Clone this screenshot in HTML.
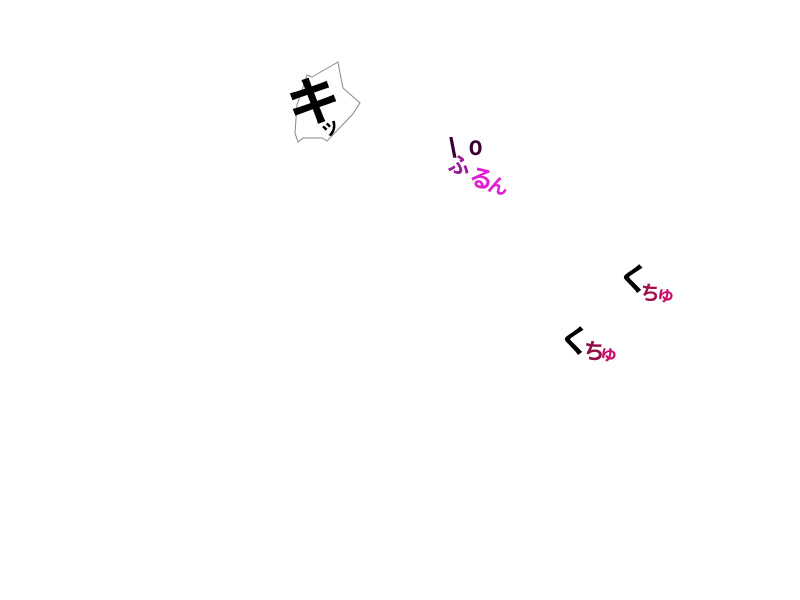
<!DOCTYPE html>
<html><head><meta charset="utf-8"><style>
html,body{margin:0;padding:0;background:#fff;width:800px;height:600px;overflow:hidden;position:relative}
.t{position:absolute;font-family:"Liberation Sans","Noto Sans CJK JP",sans-serif;font-weight:bold;line-height:1;white-space:nowrap}
</style></head><body>
<svg width="800" height="600" style="position:absolute;left:0;top:0">
<path d="M307,75 L312,77 L338,62 L340,73 L343,88 L360,103 L352,115 L327,141 L322,138 L303,138 L298,142 L295,133 L297,105 Z" fill="#fff" stroke="#888" stroke-width="1"/>
</svg>
<div class="t" style="left:287px;top:76px;font-size:54px;color:#000;transform:rotate(-10deg)">キ</div>
<div class="t" style="left:320px;top:118px;font-size:20px;color:#000;transform:rotate(-25deg)">ッ</div>

<div class="t" style="left:449px;top:134px;font-size:28px;color:#3a0035;">\</div>
<div class="t" style="left:467px;top:132px;font-size:28px;color:#3a0035;transform:scaleX(0.8)">o</div>
<div class="t" style="left:448px;top:155px;font-size:22px;color:#9a1a9a;transform:rotate(10deg)">ふ</div>
<div class="t" style="left:469px;top:168px;font-size:24px;color:#e020d0;transform:rotate(15deg)">る</div>
<div class="t" style="left:488px;top:177px;font-size:20px;color:#e020d0;transform:rotate(15deg)">ん</div>

<div class="t" style="left:618px;top:263px;font-size:32px;color:#000;transform:rotate(5deg)">く</div>
<div class="t" style="left:640px;top:284px;font-size:20px;color:#a0104a;transform:rotate(8deg)">ち</div>
<div class="t" style="left:656px;top:286px;font-size:19px;color:#c8106a;transform:rotate(8deg)">ゅ</div>

<div class="t" style="left:559px;top:325px;font-size:32px;color:#000;transform:rotate(5deg)">く</div>
<div class="t" style="left:583px;top:341px;font-size:22px;color:#901048;transform:rotate(8deg)">ち</div>
<div class="t" style="left:599px;top:345px;font-size:19px;color:#c8106a;transform:rotate(8deg)">ゅ</div>
</body></html>
